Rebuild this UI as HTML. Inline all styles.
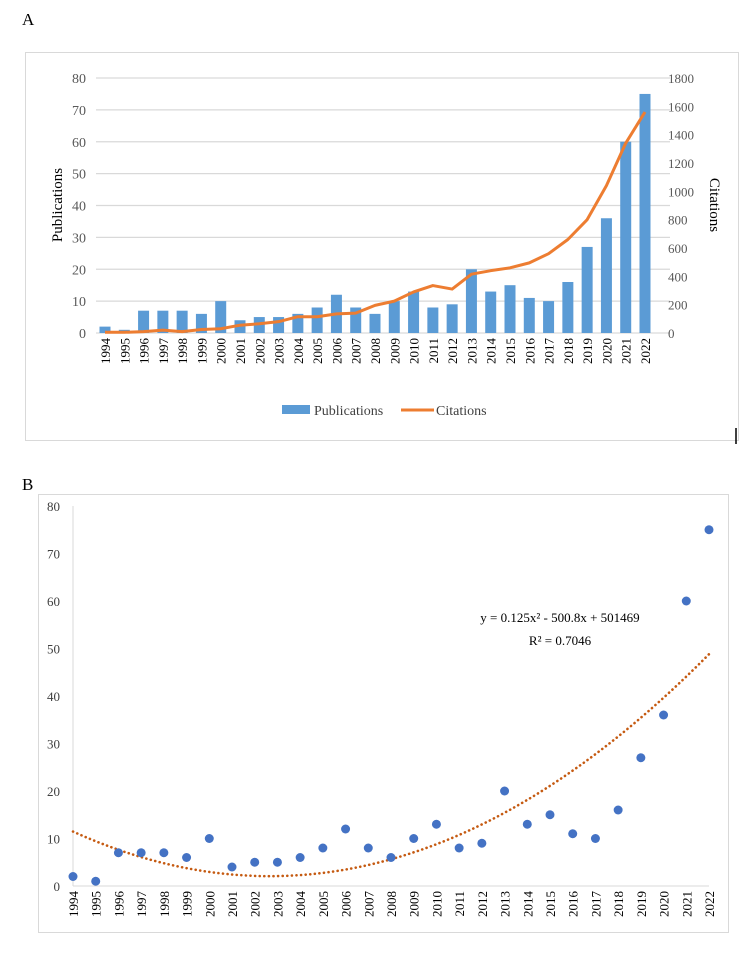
<!DOCTYPE html>
<html><head><meta charset="utf-8">
<style>
body{margin:0;background:#fff;font-family:"Liberation Serif",serif;}
svg text{font-family:"Liberation Serif",serif;}
</style></head>
<body>
<svg id="c" width="752" height="951" viewBox="0 0 752 951" xmlns="http://www.w3.org/2000/svg">
<text x="22" y="25" font-size="17" fill="#000">A</text>
<rect x="25.5" y="52.5" width="713" height="388" fill="#fff" stroke="#d9d9d9"/>
<line x1="736" y1="428" x2="736" y2="444" stroke="#000" stroke-width="1.5"/>
<g id="ga"></g>
<text x="22" y="490" font-size="17" fill="#000">B</text>
<rect x="38.5" y="494.5" width="690" height="438" fill="#fff" stroke="#d9d9d9"/>
<g id="gb"></g>
</svg>
<script>
const years=[1994,1995,1996,1997,1998,1999,2000,2001,2002,2003,2004,2005,2006,2007,2008,2009,2010,2011,2012,2013,2014,2015,2016,2017,2018,2019,2020,2021,2022];
const publications=[2,1,7,7,7,6,10,4,5,5,6,8,12,8,6,10,13,8,9,20,13,15,11,10,16,27,36,60,75];
const citations=[5,5,10,20,10,25,30,55,65,80,115,115,135,140,195,225,290,335,310,415,440,460,495,560,660,800,1040,1340,1560];
const leftTicks=[0,10,20,30,40,50,60,70,80];
const rightTicks=[0,200,400,600,800,1000,1200,1400,1600,1800];
const NS="http://www.w3.org/2000/svg";
function mk(parent,tag,attrs,txt){const e=document.createElementNS(NS,tag);for(const k in attrs)e.setAttribute(k,attrs[k]);if(txt!==undefined)e.textContent=txt;parent.appendChild(e);return e;}
// chart A
const ga=document.getElementById('ga');
const aX=i=>105+i*(645-105)/(years.length-1);
const aYL=v=>333-v*(333-78)/80;
const aYR=v=>333-v*(333-78)/1800;
leftTicks.forEach(t=>{
  const g=mk(ga,'line',{x1:96,x2:670,y1:aYL(t),y2:aYL(t),stroke:'#d9d9d9','stroke-width':1.2});
  
  const l=mk(ga,'text',{x:86,y:aYL(t)+5,'text-anchor':'end','font-size':14,fill:'#595959'},t);
  
});
rightTicks.forEach(t=>{
  const l=mk(ga,'text',{x:668,y:aYR(t)+5,'font-size':13,fill:'#595959'},t);
  
});
publications.forEach((v,i)=>{
  const r=mk(ga,'rect',{x:aX(i)-5.5,y:aYL(v),width:11,height:aYL(0)-aYL(v),fill:'#5b9bd5'});
  
});
years.forEach((y,i)=>{
  const t=mk(ga,'text',{transform:`translate(${aX(i)+5},338) rotate(-90)`,'text-anchor':'end','font-size':13,fill:'#000'},y);
  
});
const cl=mk(ga,'polyline',{points:citations.map((v,i)=>aX(i)+','+aYR(v)).join(' '),fill:'none',stroke:'#ed7d31','stroke-width':3,'stroke-linejoin':'round'});

const yt1=mk(ga,'text',{transform:'translate(62,205) rotate(-90)','text-anchor':'middle','font-size':15,fill:'#000'},'Publications');

const yt2=mk(ga,'text',{transform:'translate(710,205) rotate(90)','text-anchor':'middle','font-size':15,fill:'#000'},'Citations');

const lg1=mk(ga,'rect',{x:282,y:405,width:28,height:9,fill:'#5b9bd5'});

const lt1=mk(ga,'text',{x:314,y:415,'font-size':14,fill:'#404040'},'Publications');

const lg2=mk(ga,'line',{x1:401,x2:434,y1:410,y2:410,stroke:'#ed7d31','stroke-width':3});

const lt2=mk(ga,'text',{x:436,y:415,'font-size':14,fill:'#404040'},'Citations');

// chart B
const gb=document.getElementById('gb');
const bX=i=>73+i*(709-73)/(years.length-1);
const bY=v=>886-v*(886-506)/80;
const ax=mk(gb,'line',{x1:73,x2:73,y1:506,y2:886,stroke:'#d9d9d9'});

const bx=mk(gb,'line',{x1:73,x2:709,y1:886,y2:886,stroke:'#d9d9d9'});

leftTicks.forEach(t=>{
  const l=mk(gb,'text',{x:60,y:bY(t)+5,'text-anchor':'end','font-size':13,fill:'#404040'},t);
  
});
years.forEach((y,i)=>{
  const t=mk(gb,'text',{transform:`translate(${bX(i)+5},891) rotate(-90)`,'text-anchor':'end','font-size':13,fill:'#000'},y);
  
});
(function(){
  const n=years.length;let S=[0,0,0,0,0],T=[0,0,0];
  publications.forEach((v,i)=>{for(let k=0;k<5;k++)S[k]+=Math.pow(i,k);for(let k=0;k<3;k++)T[k]+=v*Math.pow(i,k);});
  const M=[[S[0],S[1],S[2],T[0]],[S[1],S[2],S[3],T[1]],[S[2],S[3],S[4],T[2]]];
  for(let c=0;c<3;c++){for(let r=c+1;r<3;r++){const f=M[r][c]/M[c][c];for(let k=c;k<4;k++)M[r][k]-=f*M[c][k];}}
  const co=[0,0,0];for(let r=2;r>=0;r--){let s=M[r][3];for(let k=r+1;k<3;k++)s-=M[r][k]*co[k];co[r]=s/M[r][r];}
  const pts=[];for(let t=0;t<=n-1+1e-9;t+=0.25){const v=co[0]+co[1]*t+co[2]*t*t;pts.push(bX(t)+','+bY(v));}
  const tl=mk(gb,'polyline',{points:pts.join(' '),fill:'none',stroke:'#c55a11','stroke-width':2.6,'stroke-dasharray':'0.1 4.5','stroke-linecap':'round'});
  
})();
publications.forEach((v,i)=>{
  const c=mk(gb,'circle',{cx:bX(i),cy:bY(v),r:4.5,fill:'#4472c4'});
  
});
const eq=mk(gb,'text',{x:560,y:622,'text-anchor':'middle','font-size':13,fill:'#000'},'y = 0.125x² - 500.8x + 501469');

const r2=mk(gb,'text',{x:560,y:645,'text-anchor':'middle','font-size':13,fill:'#000'},'R² = 0.7046');

</script>
</body></html>
